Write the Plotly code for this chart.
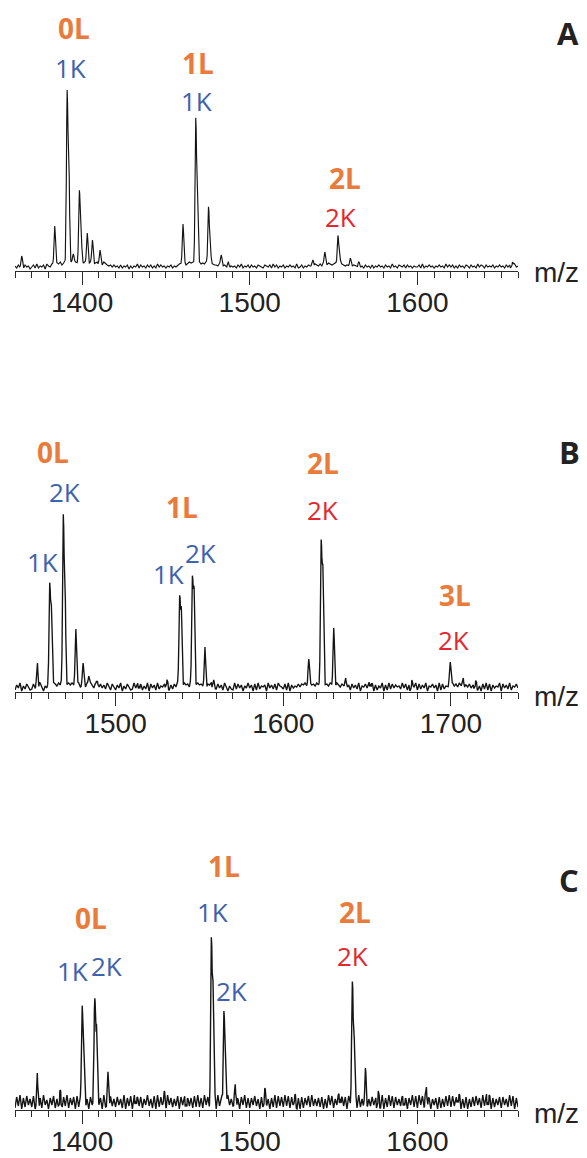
import math
import plotly.graph_objects as go

W, H = 587, 1158

# ---------------- data ----------------
# Baseline noise, one value per 1 m/z (hand-read estimates of the jagged baseline)
a_start, a_step = 1360, 1
a_noise_txt = ("5364736452" "4637354627" "5476587968" "8798979889" "9898798789"
               "7869765646" "4536354625" "3547364536" "4635374645" "3546354677"
               "7868989797" "8787968776" "6576564635" "4536473546" "3645365436"
               "5463746354" "6354645373" "4635465657" "6575766876" "7867676565"
               "6565464536" "4536354645" "3645374536" "5463645354" "4637354645"
               "3546453746" "4635364536" "5364537465" "3645463546" "4536463574" "5")
a_noise = [int(ch) for ch in a_noise_txt]
a_peak_mz = [1364.0, 1383.7, 1391.1, 1392.1, 1394.8, 1398.4, 1399.4, 1403.1, 1406.2, 1410.7,
             1460.2, 1467.8, 1468.8, 1475.4, 1476.4, 1483.0, 1487.5,
             1537.7, 1544.8, 1552.6, 1553.6, 1560.0, 1565.1, 1656.7]
a_peak_int = [8, 40, 168, 100, 10, 71, 28, 30, 23, 13,
              40, 140, 74, 57, 20, 10, 4,
              6, 13, 28, 10, 7, 3, 4]

b_start, b_step = 1440, 1
b_noise_txt = ("2749163852" "3847295164" "6979869798" "8697978695" "7958697486"
               "5847396285" "2749163852" "3948172639" "1847293658" "4927385961"
               "6978597869" "7869587947" "3847295163" "2938471649" "4718293657"
               "1947382965" "3829174658" "5879698786" "9786978697" "8697586947"
               "2847391658" "4938172649" "1729384756" "3948271659" "2837491658"
               "4719283658" "7968596847" "5847392618" "3928174659" "1847392658" "4")
b_noise = [int(ch) for ch in b_noise_txt]
b_peak_mz = [1453.4, 1460.7, 1461.7, 1468.8, 1469.8, 1476.3, 1480.6, 1484.0, 1489.0,
             1514.0, 1530.4, 1538.2, 1539.2, 1545.8, 1546.8, 1553.3, 1558.3,
             1615.2, 1622.6, 1623.6, 1630.1, 1637.5, 1652.0, 1676.7,
             1699.6, 1707.4, 1714.5]
b_peak_int = [22, 96, 74, 164, 97, 55, 20, 10, 5,
              5, 4, 86, 79, 104, 91, 36, 6,
              24, 140, 111, 56, 6, 5, 6,
              23, 6, 3]

c_start, c_step = 1360, 1
c_noise_txt = ("2d4f1c3e5b" "3e1d4c2f5a" "1c5e2b4f3d" "4f2c5d1e3b" "2e4b1d5c3f"
               "5c1f3e2d4b" "3d5b2f1c4e" "1e3c4d2b5f" "4b2e1f3d5c" "2f5c3b4e1d"
               "5d1b4c2e3f" "3c2f5d1b4e" "1f4d2c3e5b" "4e3b1d5f2c" "2c5e4b1d3f"
               "5b1c3f2e4d" "3f4e2d5b1c" "1d2c5e3f4b" "4c3d1b2f5e" "2b5f3c4d1e"
               "5e1c2f3b4d" "3b4d5c1e2f" "1c3f4e2d5b" "4d2b1c5f3e" "2f5e3d4c1b"
               "5c1d2b3e4f" "3e4c5f1b2d" "1b3d4e5c2f" "4f2e1c3b5d" "2d5b3f4e1c" "3")
c_noise = [int(ch, 16) for ch in c_noise_txt]
c_peak_mz = [1373.3, 1387.0, 1400.1, 1401.1, 1407.6, 1408.6, 1415.7, 1432.0, 1449.0,
             1462.0, 1477.1, 1478.1, 1484.6, 1485.6, 1491.6, 1509.0, 1527.0,
             1554.0, 1561.2, 1562.2, 1569.0, 1576.4, 1592.0, 1605.4, 1624.0, 1642.0]
c_peak_int = [24, 5, 100, 40, 105, 65, 29, 6, 7,
              5, 155, 116, 84, 50, 14, 7, 5,
              8, 110, 75, 29, 6, 5, 10, 5, 6]

# axis ranges and tick labels
a_range = [1360, 1660]
b_range = [1440, 1740]
c_range = [1360, 1660]
a_tickvals = [1400, 1450, 1500, 1550, 1600, 1650]
a_ticktext = ["1400", "", "1500", "", "1600", ""]
b_tickvals = [1450, 1500, 1550, 1600, 1650, 1700]
b_ticktext = ["", "1500", "", "1600", "", "1700"]
c_tickvals = [1400, 1450, 1500, 1550, 1600, 1650]
c_ticktext = ["1400", "", "1500", "", "1600", ""]

# peak annotations (text, kind)
a_labels = ["0L", "1K", "1L", "1K", "2L", "2K"]
a_kinds = ["L", "Kb", "L", "Kb", "L", "Kr"]
b_labels = ["0L", "2K", "1K", "1L", "1K", "2K", "2L", "2K", "3L", "2K"]
b_kinds = ["L", "Kb", "Kb", "L", "Kb", "Kb", "L", "Kr", "L", "Kr"]
c_labels = ["0L", "1K", "2K", "1L", "1K", "2K", "2L", "2K"]
c_kinds = ["L", "Kb", "Kb", "L", "Kb", "Kb", "L", "Kr"]
panel_letters = ["A", "B", "C"]
axis_title = "m/z"

# ---------------- layout / style ----------------
a_label_px = [(74, 28), (70, 68), (198, 63), (196, 101), (345, 178), (340, 217)]
b_label_px = [(53, 452), (64, 492), (42, 562), (182, 507), (168, 574), (200, 553),
              (323, 463), (322, 510), (455, 595), (453, 640)]
c_label_px = [(91, 918), (72, 971), (106, 966), (224, 866), (212, 912), (232, 991),
              (355, 912), (352, 956)]
letter_px = [(568, 33), (569, 452), (569, 880)]
mz_px = [(556, 273), (556, 696), (556, 1113)]

axis_px = [271, 692, 1110]      # pixel row of each x-axis line
panel_h = 220                   # pixel height of each plot area
x_left, x_right = 15, 518
line_w = [1.15, 1.35, 1.4]

ORANGE = "#E97C3C"
BLUE = "#3E62AD"
RED = "#E2282E"
INK = "#141414"
LFONT = "Open Sans"
TFONT = "Liberation Sans"


def spectrum(start, step, noise, pk_mz, pk_int, sigma=0.42):
    xs = set(round(start + i * step, 3) for i in range(len(noise)))
    for m in pk_mz:
        for d in (-1.2, -0.8, -0.5, -0.25, 0.0, 0.25, 0.5, 0.8, 1.2):
            xs.add(round(m + d, 3))
    xs = sorted(xs)
    ys = []
    for x in xs:
        j = min(len(noise) - 1, max(0, int(round((x - start) / step))))
        y = noise[j]
        for m, a in zip(pk_mz, pk_int):
            y += a * math.exp(-0.5 * ((x - m) / sigma) ** 2)
        ys.append(y)
    return xs, ys


fig = go.Figure()
panels = [
    (a_start, a_step, a_noise, a_peak_mz, a_peak_int, a_range, a_tickvals, a_ticktext),
    (b_start, b_step, b_noise, b_peak_mz, b_peak_int, b_range, b_tickvals, b_ticktext),
    (c_start, c_step, c_noise, c_peak_mz, c_peak_int, c_range, c_tickvals, c_ticktext),
]

for k, (st, sp, nz, pm, pi, rng, tv, tt) in enumerate(panels):
    xs, ys = spectrum(st, sp, nz, pm, pi)
    sfx = "" if k == 0 else str(k + 1)
    fig.add_trace(go.Scatter(x=xs, y=ys, mode="lines",
                             line=dict(color=INK, width=line_w[k]),
                             xaxis="x" + sfx, yaxis="y" + sfx,
                             showlegend=False, hoverinfo="skip"))
    bottom = 1 - axis_px[k] / H
    top = 1 - (axis_px[k] - panel_h) / H
    minor_vals = list(range(rng[0], rng[1] + 1, 10))
    fig.update_layout(**{
        "xaxis" + sfx: dict(
            domain=[x_left / W, x_right / W], range=rng, anchor="y" + sfx,
            showline=True, linecolor="#2a2a2a", linewidth=1.4,
            showgrid=False, zeroline=False,
            tickmode="array", tickvals=tv, ticktext=tt,
            ticks="outside", ticklen=13, tickwidth=1.4, tickcolor="#2a2a2a",
            ticklabelstandoff=-7,
            tickfont=dict(family=TFONT, size=28, color="#222222"),
            minor=dict(tickmode="array", tickvals=minor_vals, ticks="outside",
                       ticklen=6, tickwidth=1.2, tickcolor="#2a2a2a", showgrid=False),
        ),
        "yaxis" + sfx: dict(
            domain=[bottom, top], range=[0, panel_h], visible=False,
            anchor="x" + sfx, fixedrange=True,
        ),
    })

annotations = []


def add_text(px, py, text, color, size, bold=False, family=LFONT):
    annotations.append(dict(
        x=px / W, y=1 - py / H, xref="paper", yref="paper",
        text=("<b>%s</b>" % text) if bold else text,
        showarrow=False, xanchor="center", yanchor="middle",
        font=dict(family=family, size=size, color=color),
    ))


kind_style = {"L": (ORANGE, 28, True), "Kb": (BLUE, 26, False), "Kr": (RED, 26, False)}
for labels, kinds, pos in [(a_labels, a_kinds, a_label_px),
                           (b_labels, b_kinds, b_label_px),
                           (c_labels, c_kinds, c_label_px)]:
    for t, kd, (px, py) in zip(labels, kinds, pos):
        col, sz, bd = kind_style[kd]
        add_text(px, py, t, col, sz, bd)

for t, (px, py) in zip(panel_letters, letter_px):
    add_text(px, py, t, "#222222", 31, True)
for (px, py) in mz_px:
    add_text(px, py, axis_title, "#222222", 28, False, TFONT)

fig.update_layout(
    width=W, height=H, margin=dict(l=0, r=0, t=0, b=0),
    paper_bgcolor="white", plot_bgcolor="white",
    annotations=annotations, showlegend=False,
)

fig.write_html("out.html", config={"displayModeBar": False},
               post_script="document.body.style.margin='0';document.body.style.overflow='hidden';")
